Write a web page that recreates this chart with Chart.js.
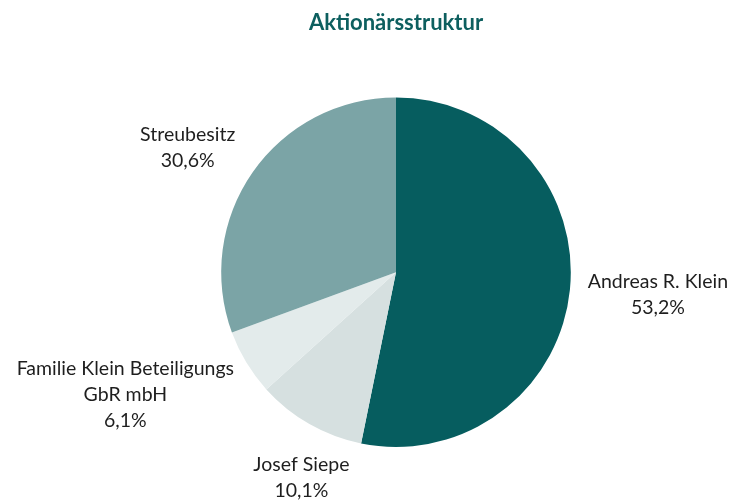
<!DOCTYPE html>
<html>
<head>
<meta charset="utf-8">
<script src="https://cdn.jsdelivr.net/npm/chart.js@4"></script>
<style>
  html, body { margin: 0; padding: 0; background: #fff; }
  #wrap { width: 738px; height: 501px; }
</style>
</head>
<body>
<div id="wrap"><canvas id="chart" width="738" height="501"></canvas></div>
<script>
/* DATA */
const holders = [["Andreas R. Klein"], ["Josef Siepe"], ["Familie Klein Beteiligungs", "GbR mbH"], ["Streubesitz"]];
const shares = [53.2, 10.1, 6.1, 30.6];
const colors = ["#065d5f", "#d6e0e0", "#e3ebeb", "#7ba4a6"];

/* label offsets from slice edge (mid angle) */
const labelShift = [[88, 5], [-8, 54], [-121, 32], [-65, -24]];

const pieLabels = {
  id: "pieLabels",
  afterDatasetsDraw(chart) {
    const c = chart.ctx;
    const meta = chart.getDatasetMeta(0);
    c.save();
    c.font = "19.5px Lato, sans-serif";
    c.fillStyle = "#1e1e1e";
    c.textAlign = "center";
    c.textBaseline = "middle";
    meta.data.forEach((arc, i) => {
      const p = arc.getProps(["x", "y", "startAngle", "endAngle", "outerRadius"], true);
      const mid = (p.startAngle + p.endAngle) / 2;
      const ax = p.x + Math.cos(mid) * p.outerRadius + labelShift[i][0];
      const ay = p.y + Math.sin(mid) * p.outerRadius + labelShift[i][1];
      const lines = holders[i].concat([shares[i].toLocaleString("de-DE", { minimumFractionDigits: 1 }) + "%"]);
      const lh = 26;
      lines.forEach((t, k) => {
        c.fillText(t, ax, ay + (k - (lines.length - 1) / 2) * lh);
      });
    });
    c.restore();
  }
};

new Chart(document.getElementById("chart"), {
  type: "pie",
  data: {
    labels: holders.map(h => h.join(" ")),
    datasets: [{
      data: shares,
      backgroundColor: colors,
      borderWidth: 0
    }]
  },
  options: {
    responsive: false,
    animation: false,
    layout: { padding: { left: 100, right: 46, top: 0, bottom: 54 } },
    plugins: {
      legend: { display: false },
      tooltip: { enabled: false },
      title: {
        display: true,
        text: "Aktionärsstruktur",
        color: "#0d5f5f",
        font: { family: "Lato, sans-serif", size: 22, weight: "bold" },
        padding: { top: 10, bottom: 61 }
      }
    }
  },
  plugins: [pieLabels]
});
</script>
</body>
</html>
